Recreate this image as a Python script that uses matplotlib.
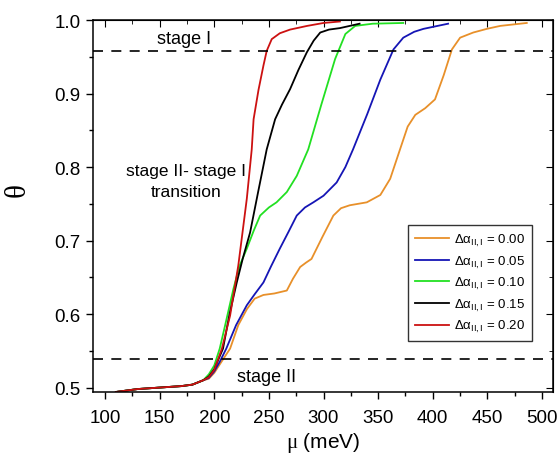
import matplotlib
matplotlib.use("Agg")
import matplotlib.pyplot as plt
from matplotlib.ticker import MultipleLocator, FormatStrFormatter

plt.rcParams['font.family'] = ['Liberation Sans', 'DejaVu Sans']
plt.rcParams['mathtext.fontset'] = 'custom'
plt.rcParams['mathtext.rm'] = 'Liberation Serif'
plt.rcParams['mathtext.sf'] = 'Liberation Sans'
plt.rcParams['mathtext.it'] = 'Liberation Sans:italic'

# ---- data ----
low_mu = [110, 130, 150, 170, 180, 190]
low_th = [0.494, 0.498, 0.500, 0.502, 0.504, 0.510]

mu_000 = low_mu + [195, 200, 207, 214.5, 222, 230, 237, 245, 255, 266.4, 272, 278.6, 284, 289, 299, 309, 316,
                   324, 339.6, 352, 361, 370, 377, 384, 393, 402, 410, 417.5, 425, 437, 449.5, 461.7, 486]
th_000 = low_th + [0.512, 0.520, 0.536, 0.553, 0.585, 0.607, 0.621, 0.626, 0.628, 0.632, 0.648, 0.664, 0.670,
                   0.675, 0.705, 0.734, 0.744, 0.748, 0.752, 0.762, 0.784, 0.824, 0.855, 0.871, 0.880, 0.892,
                   0.925, 0.960, 0.976, 0.983, 0.988, 0.992, 0.996]

mu_005 = low_mu + [195, 200, 205, 211, 220, 229.8, 237, 245, 252, 260, 268, 275.5, 283, 290.7, 300, 312, 320,
                   327, 340, 352, 364, 373, 383, 391.5, 414]
th_005 = low_th + [0.513, 0.522, 0.535, 0.553, 0.585, 0.612, 0.627, 0.643, 0.665, 0.689, 0.712, 0.734, 0.745,
                   0.752, 0.761, 0.779, 0.800, 0.824, 0.872, 0.919, 0.960, 0.976, 0.984, 0.988, 0.995]

mu_010 = low_mu + [195, 200, 205, 210, 217.5, 223, 229.8, 236, 242, 250, 257, 266.4, 275.5, 286, 298, 310.6,
                   320, 329, 345, 373]
th_010 = low_th + [0.518, 0.530, 0.553, 0.585, 0.634, 0.665, 0.689, 0.713, 0.734, 0.745, 0.752, 0.766, 0.788,
                   0.824, 0.885, 0.947, 0.981, 0.992, 0.995, 0.996]

mu_015 = low_mu + [195, 200, 208, 214, 220.6, 226, 232.8, 240, 248, 255.7, 262, 269.4, 277, 284.7, 291, 297,
                   305, 315, 333]
th_015 = low_th + [0.515, 0.525, 0.553, 0.600, 0.643, 0.675, 0.711, 0.765, 0.824, 0.865, 0.885, 0.906, 0.932,
                   0.956, 0.972, 0.983, 0.987, 0.989, 0.995]

mu_020 = low_mu + [195, 200, 207, 214.5, 222, 229.8, 234.3, 236, 240.5, 245, 248, 252.6, 260, 269.4, 285, 300, 315]
th_020 = low_th + [0.514, 0.524, 0.553, 0.598, 0.666, 0.757, 0.824, 0.865, 0.905, 0.938, 0.958, 0.974, 0.982,
                   0.987, 0.992, 0.996, 0.998]

labels = ['0.00', '0.05', '0.10', '0.15', '0.20']
colors = ['#E8902A', '#1515B5', '#22E022', '#000000', '#CC1111']
series = [(mu_000, th_000), (mu_005, th_005), (mu_010, th_010), (mu_015, th_015), (mu_020, th_020)]

stage_I_level = 0.958
stage_II_level = 0.539

# ---- figure ----
fig = plt.figure(figsize=(5.6, 4.6), dpi=100)
ax = fig.add_axes([0.166, 0.1457, 0.8215, 0.8086])

for (m, t), c, lab in zip(series, colors, labels):
    ax.plot(m, t, color=c, lw=1.3,
            label=r'$\mathsf{\Delta\alpha}_{\mathsf{II,I}}$ = ' + lab)

ax.axhline(stage_I_level, color='black', lw=1.2, dashes=(6, 5))
ax.axhline(stage_II_level, color='black', lw=1.2, dashes=(6, 5))

ax.set_xlim(89, 510)
ax.set_ylim(0.494, 1.0)
ax.xaxis.set_major_locator(MultipleLocator(50))
ax.xaxis.set_minor_locator(MultipleLocator(25))
ax.yaxis.set_major_locator(MultipleLocator(0.1))
ax.yaxis.set_minor_locator(MultipleLocator(0.05))
ax.tick_params(which='both', direction='out', labelsize=13.5, width=1)
ax.tick_params(which='major', length=5)
ax.tick_params(which='minor', length=3)
ax.tick_params(axis='x', which='major', pad=7)
ax.tick_params(axis='y', which='major', pad=4)
ax.yaxis.set_major_formatter(FormatStrFormatter('%.1f'))

for s in ax.spines.values():
    s.set_linewidth(1.1)

secx = ax.secondary_xaxis('top')
secx.xaxis.set_major_locator(MultipleLocator(50))
secx.xaxis.set_minor_locator(MultipleLocator(25))
secx.tick_params(which='both', direction='in', labeltop=False)
secx.tick_params(which='major', length=5)
secx.tick_params(which='minor', length=3)
secy = ax.secondary_yaxis('right')
secy.yaxis.set_major_locator(MultipleLocator(0.1))
secy.yaxis.set_minor_locator(MultipleLocator(0.05))
secy.tick_params(which='both', direction='in', labelright=False)
secy.tick_params(which='major', length=5)
secy.tick_params(which='minor', length=3)

ax.set_xlabel(r'$\mathrm{\mu}$ (meV)', fontsize=15, labelpad=3)
ax.set_ylabel(r'$\mathrm{\theta}$', fontsize=21)
ax.yaxis.set_label_coords(-0.133, 0.54)

ax.text(172, 0.975, 'stage I', fontsize=13, ha='center', va='center')
ax.text(248, 0.515, 'stage II', fontsize=13, ha='center', va='center')
ax.text(174, 0.781, 'stage II- stage I\ntransition', fontsize=12.5, ha='center', va='center',
        multialignment='center', linespacing=1.5)

leg = ax.legend(loc='lower right', bbox_to_anchor=(0.954, 0.137), fontsize=9.5, frameon=True,
                fancybox=False, edgecolor='black', handlelength=2.6, labelspacing=0.42,
                borderpad=0.5, handletextpad=0.4, borderaxespad=0)
leg.get_frame().set_linewidth(1.0)

fig.savefig('out.png', dpi=100)
